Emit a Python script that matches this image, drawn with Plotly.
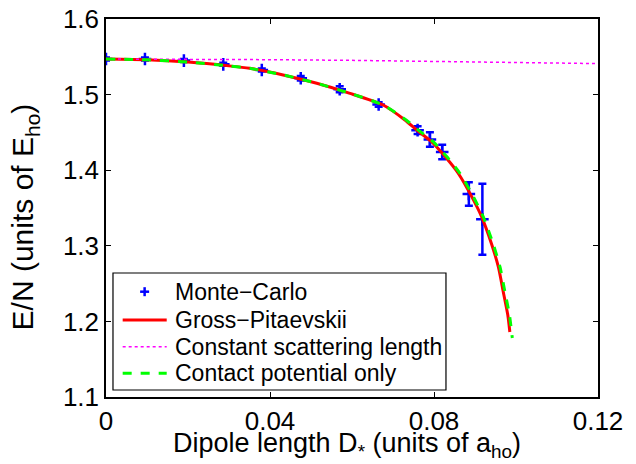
import plotly.graph_objects as go

# Monte-Carlo data
mc_x = [0.0, 0.0095, 0.019, 0.0286, 0.038, 0.0475, 0.057, 0.0665, 0.076, 0.079, 0.082, 0.0885, 0.0918]
mc_e = [1.547, 1.547, 1.545, 1.540, 1.5325, 1.5216, 1.507, 1.487, 1.453, 1.4406, 1.424, 1.3685, 1.335]
mc_err = [0.002, 0.002, 0.002, 0.002, 0.002, 0.003, 0.004, 0.003, 0.005, 0.0095, 0.0095, 0.0155, 0.047]

# Gross-Pitaevskii curve
gp_x = [0.0, 0.01, 0.02, 0.03, 0.035, 0.0432, 0.0514, 0.0595, 0.0676, 0.0729, 0.0758, 0.0794,
        0.0827, 0.0859, 0.0892, 0.0916, 0.094, 0.0957, 0.0969, 0.098, 0.0985]
gp_e = [1.547, 1.546, 1.543, 1.538, 1.5348, 1.526, 1.515, 1.5017, 1.4862, 1.4664, 1.453, 1.4377,
        1.418, 1.396, 1.365, 1.3385, 1.303, 1.272, 1.239, 1.2085, 1.186]

# Constant scattering length
cs_x = [0.0, 0.02, 0.04, 0.06, 0.08, 0.10, 0.12]
cs_e = [1.547, 1.5468, 1.5462, 1.5453, 1.5440, 1.5425, 1.5410]

# Contact potential only
cp_x = [0.0, 0.01, 0.02, 0.03, 0.035, 0.0432, 0.0514, 0.0595, 0.0676, 0.0732, 0.0762, 0.0798,
        0.0831, 0.0863, 0.0896, 0.092, 0.0944, 0.0961, 0.0973, 0.0984, 0.0991]
cp_e = [1.547, 1.546, 1.543, 1.538, 1.5348, 1.526, 1.515, 1.5017, 1.4862, 1.4664, 1.453, 1.4377,
        1.418, 1.396, 1.365, 1.3385, 1.303, 1.272, 1.239, 1.2085, 1.178]

series_names = ["Monte\u2212Carlo", "Gross\u2212Pitaevskii", "Constant scattering length",
                "Contact potential only"]

x_ticks = [0, 0.04, 0.08, 0.12]
x_tick_labels = ["0", "0.04", "0.08", "0.12"]
y_ticks = [1.1, 1.2, 1.3, 1.4, 1.5, 1.6]
y_tick_labels = ["1.1", "1.2", "1.3", "1.4", "1.5", "1.6"]

x_title = "Dipole length D<sub>*</sub> (units of a<sub>ho</sub>)"
y_title = "E/N (units of E<sub>ho</sub>)"

FONT = "Liberation Sans, Arial, Helvetica, sans-serif"
BLUE, RED, MAGENTA, GREEN = "#0000ff", "#ff0000", "#ff00ff", "#00ff00"

fig = go.Figure()
fig.add_trace(go.Scatter(
    x=mc_x, y=mc_e, mode="markers", name=series_names[0],
    marker=dict(symbol="cross-thin", size=9, color=BLUE, line=dict(color=BLUE, width=2.5)),
    error_y=dict(type="data", array=mc_err, visible=True, color=BLUE, thickness=2.5, width=4),
))
fig.add_trace(go.Scatter(
    x=gp_x, y=gp_e, mode="lines", name=series_names[1],
    line=dict(color=RED, width=3, shape="spline", smoothing=0.6),
))
fig.add_trace(go.Scatter(
    x=cs_x, y=cs_e, mode="lines", name=series_names[2],
    line=dict(color=MAGENTA, width=1.5, dash="dot"),
))
fig.add_trace(go.Scatter(
    x=cp_x, y=cp_e, mode="lines", name=series_names[3],
    line=dict(color=GREEN, width=3, dash="dash", shape="spline", smoothing=0.6),
))

axis_common = dict(
    showgrid=False, zeroline=False, showline=True, linecolor="black", linewidth=1.5,
    mirror="allticks", ticks="inside", ticklen=5, tickwidth=1, tickcolor="black",
    tickfont=dict(family=FONT, size=26, color="black"),
)

# --- legend drawn as a boxed key (paper coordinates) ---
shapes = [dict(type="rect", xref="paper", yref="paper", x0=0.0142, x1=0.691, y0=0.0185, y1=0.328,
               line=dict(color="black", width=1.2), fillcolor="white", layer="above")]
row_y = [0.2786, 0.2037, 0.1331, 0.0627]
sx0, sx1, sxm = 0.0339, 0.1234, 0.0785
# Monte-Carlo "+" sample
dxp, dyp = 4.5 / 492, 4.5 / 378
shapes.append(dict(type="line", xref="paper", yref="paper", x0=sxm - dxp, x1=sxm + dxp,
                   y0=row_y[0], y1=row_y[0], line=dict(color=BLUE, width=2.5), layer="above"))
shapes.append(dict(type="line", xref="paper", yref="paper", x0=sxm, x1=sxm,
                   y0=row_y[0] - dyp, y1=row_y[0] + dyp, line=dict(color=BLUE, width=2.5), layer="above"))
line_styles = [None, dict(color=RED, width=3), dict(color=MAGENTA, width=1.5, dash="dot"),
               dict(color=GREEN, width=3, dash="dash")]
for ry, ls in zip(row_y[1:], line_styles[1:]):
    shapes.append(dict(type="line", xref="paper", yref="paper", x0=sx0, x1=sx1, y0=ry, y1=ry,
                       line=ls, layer="above"))

annotations = [dict(xref="paper", yref="paper", x=0.1354, y=ry, xanchor="left", yanchor="middle",
                    text=name, showarrow=False, font=dict(family=FONT, size=23, color="black"))
               for ry, name in zip(row_y, series_names)]
# axis titles
annotations.append(dict(xref="paper", yref="paper", x=0.49, y=-0.127, xanchor="center",
                        yanchor="middle", text=x_title, showarrow=False,
                        font=dict(family=FONT, size=27, color="black")))
annotations.append(dict(xref="paper", yref="paper", x=-0.166, y=0.476, xanchor="center",
                        yanchor="middle", text=y_title, textangle=-90, showarrow=False,
                        font=dict(family=FONT, size=30, color="black")))

fig.update_layout(
    width=636, height=464,
    margin=dict(l=106, r=38, t=19, b=67, autoexpand=False),
    paper_bgcolor="white", plot_bgcolor="white",
    font=dict(family=FONT, color="black"),
    xaxis=dict(range=[0, 0.12], tickvals=x_ticks, ticktext=x_tick_labels, **axis_common),
    yaxis=dict(range=[1.1, 1.6], tickvals=y_ticks, ticktext=y_tick_labels, **axis_common),
    shapes=shapes,
    annotations=annotations,
    showlegend=False,
)

fig.write_html("out.html")
